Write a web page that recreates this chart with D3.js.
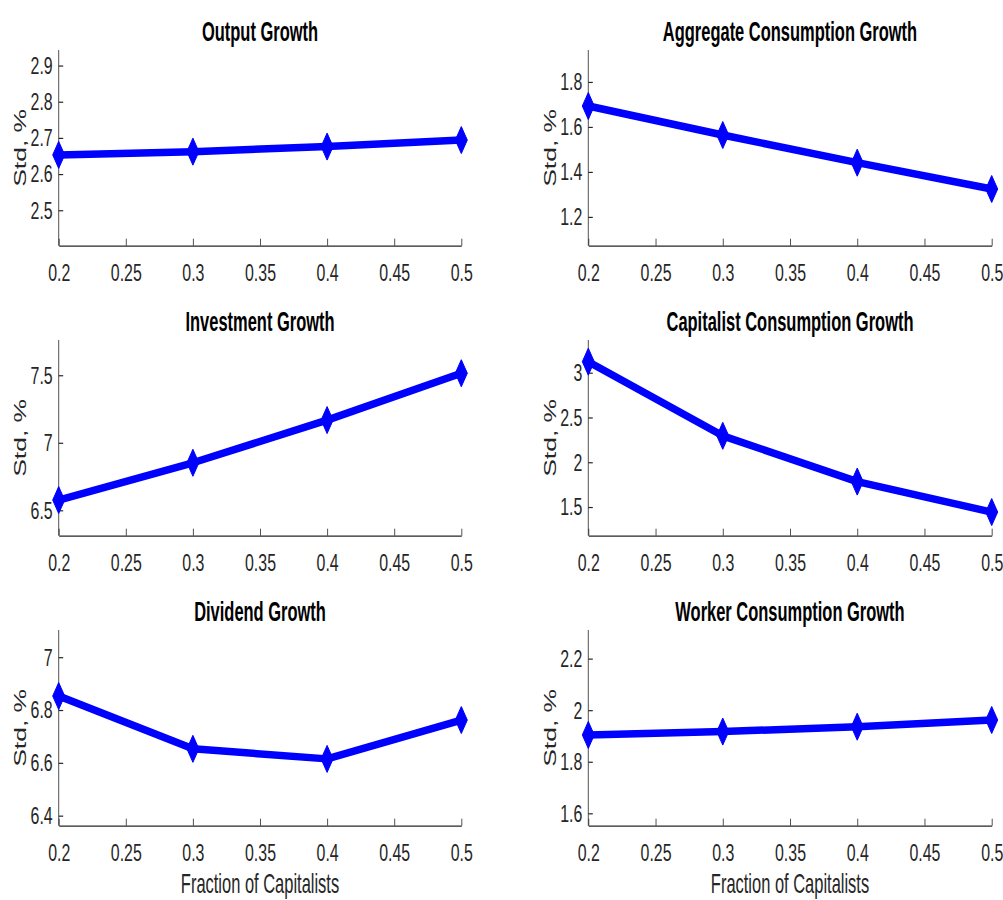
<!DOCTYPE html>
<html>
<head>
<meta charset="utf-8">
<script src="https://cdn.jsdelivr.net/npm/d3@7/dist/d3.min.js"></script>
<style>
  html, body { margin: 0; padding: 0; background: #fff; }
  svg { display: block; font-family: "Liberation Sans", Arial, Helvetica, sans-serif; }
</style>
</head>
<body>
<svg id="fig" width="1003" height="900"></svg>
<script>
// Fraction of capitalists on the horizontal axis
const fractions = [0.2, 0.3, 0.4, 0.5];
const xTicks = [0.2, 0.25, 0.3, 0.35, 0.4, 0.45, 0.5];
const xTickLabels = ["0.2", "0.25", "0.3", "0.35", "0.4", "0.45", "0.5"];

// Standard deviations (%) of each growth rate
const outputStd = [2.653, 2.662, 2.676, 2.694];
const aggConsStd = [1.693, 1.564, 1.441, 1.324];
const investmentStd = [6.576, 6.852, 7.168, 7.515];
const capConsStd = [3.123, 2.295, 1.784, 1.444];
const dividendStd = [6.853, 6.653, 6.615, 6.762];
const workerConsStd = [1.904, 1.917, 1.936, 1.962];

// Panel titles
const titles = ["Output Growth", "Aggregate Consumption Growth", "Investment Growth",
  "Capitalist Consumption Growth", "Dividend Growth", "Worker Consumption Growth"];

// Y-axis limits and ticks per panel
const yLimits = [[2.402, 2.943], [1.072, 1.942], [6.312, 7.761], [1.18, 3.365], [6.362, 7.103], [1.552, 2.311]];
const yTicks = [[2.5, 2.6, 2.7, 2.8, 2.9], [1.2, 1.4, 1.6, 1.8], [6.5, 7, 7.5], [1.5, 2, 2.5, 3], [6.4, 6.6, 6.8, 7], [1.6, 1.8, 2, 2.2]];
const yTickLabels = [["2.5", "2.6", "2.7", "2.8", "2.9"], ["1.2", "1.4", "1.6", "1.8"], ["6.5", "7", "7.5"], ["1.5", "2", "2.5", "3"], ["6.4", "6.6", "6.8", "7"], ["1.6", "1.8", "2", "2.2"]];

const seriesList = [outputStd, aggConsStd, investmentStd, capConsStd, dividendStd, workerConsStd];
const yLabel = "Std, %";
const xLabel = "Fraction of Capitalists";

// layout
const colX = [[58.7, 461.3], [588.3, 991.7]];
const rowY = [[50, 245.7], [340, 535.7], [630, 825.7]];
const SQ = 0.63;          // horizontal text compression of the figure
const blue = "#0000ff";
const axisCol = "#262626";

const svg = d3.select("#fig");

function squishText(sel, sx) {
  sel.each(function () {
    const t = d3.select(this);
    const x = +t.attr("x") || 0;
    const y = +t.attr("y") || 0;
    t.attr("x", 0).attr("y", 0)
     .attr("transform", `translate(${x},${y}) scale(${sx},1)`);
  });
}

seriesList.forEach((vals, i) => {
  const col = i % 2, row = Math.floor(i / 2);
  const [x0, x1] = colX[col];
  const [y0, y1] = rowY[row];

  const x = d3.scaleLinear().domain([0.2, 0.5]).range([x0, x1]);
  const y = d3.scaleLinear().domain(yLimits[i]).range([y1, y0]);

  const g = svg.append("g");

  // bottom axis with inward ticks
  const xa = g.append("g").attr("transform", `translate(0,${y1})`)
    .call(d3.axisBottom(x).tickValues(xTicks)
      .tickFormat((d, k) => xTickLabels[k])
      .tickSizeInner(-7).tickSizeOuter(0).tickPadding(18));
  xa.select(".domain").attr("stroke", axisCol).attr("stroke-width", 1.3);
  xa.selectAll(".tick line").attr("stroke", axisCol).attr("stroke-width", 0.8);
  xa.selectAll(".tick text").attr("fill", axisCol)
    .style("font-size", "24.5px");
  xa.selectAll(".tick text").each(function () {
    const t = d3.select(this);
    const yy = +t.attr("y");
    t.attr("y", 0).attr("transform", `translate(0,${yy}) scale(${SQ + 0.02},1)`);
  });

  // left axis with inward ticks
  const ya = g.append("g").attr("transform", `translate(${x0},0)`)
    .call(d3.axisLeft(y).tickValues(yTicks[i])
      .tickFormat((d, k) => yTickLabels[i][k])
      .tickSizeInner(-4.5).tickSizeOuter(0).tickPadding(6));
  ya.select(".domain").attr("stroke", axisCol).attr("stroke-width", 0.8)
    .attr("d", `M0,${y0}V${y1}`);
  ya.selectAll(".tick line").attr("stroke", axisCol).attr("stroke-width", 1.2);
  ya.selectAll(".tick text").attr("fill", axisCol)
    .style("font-size", "24.5px");
  squishText(ya.selectAll(".tick text"), SQ + 0.02);

  // title
  g.append("text")
    .attr("text-anchor", "middle")
    .attr("transform", `translate(${(x0 + x1) / 2},${y0 - 9.5}) scale(${SQ - 0.02},1)`)
    .style("font-size", "27px").style("font-weight", "bold").attr("fill", "#000")
    .text(titles[i]);

  // y label
  g.append("text")
    .attr("text-anchor", "middle")
    .attr("transform", `translate(${col === 0 ? 26 : 555.5},${(y0 + y1) / 2}) scale(${SQ},1) rotate(-90)`)
    .style("font-size", "26.5px").attr("fill", axisCol)
    .text(yLabel);

  // x label on bottom row
  if (row === 2) {
    g.append("text")
      .attr("text-anchor", "middle")
      .attr("transform", `translate(${(x0 + x1) / 2},${y1 + 67.5}) scale(${SQ - 0.02},1)`)
      .style("font-size", "27px").attr("fill", axisCol)
      .text(xLabel);
  }

  // series line
  const pts = fractions.map((f, k) => [f, vals[k]]);
  g.append("path")
    .datum(pts)
    .attr("fill", "none")
    .attr("stroke", blue)
    .attr("stroke-width", 7.5)
    .attr("stroke-linejoin", "round")
    .attr("d", d3.line().x(d => x(d[0])).y(d => y(d[1])));

  // diamond markers
  const hw = 6, hh = 13.5;
  g.selectAll(".mk").data(pts).enter().append("path")
    .attr("fill", blue)
    .attr("stroke", blue)
    .attr("stroke-width", 1)
    .attr("d", d => {
      const cx = x(d[0]), cy = y(d[1]);
      return `M${cx},${cy - hh}L${cx + hw},${cy}L${cx},${cy + hh}L${cx - hw},${cy}Z`;
    });
});
</script>
</body>
</html>
